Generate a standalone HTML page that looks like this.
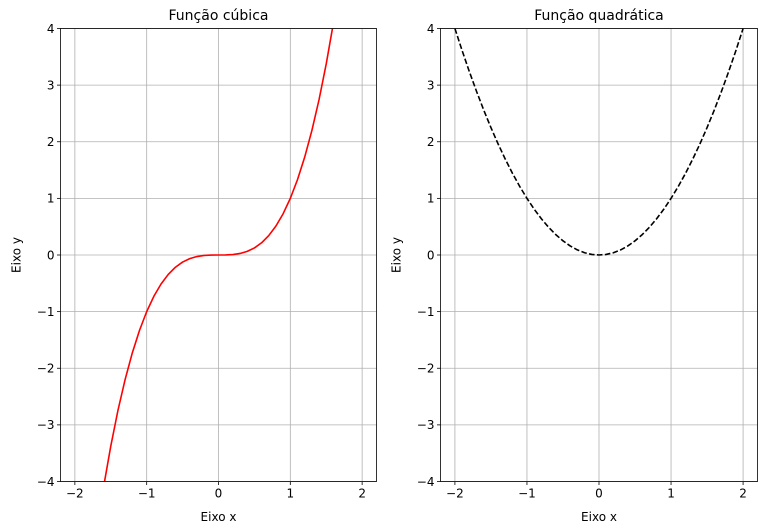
<!DOCTYPE html>
<html><head><meta charset="utf-8"><style>
html,body{margin:0;background:#fff;overflow:hidden;width:774px;height:530px;}
svg{display:block;font-family:"DejaVu Sans","Liberation Sans",sans-serif;}
</style></head><body>
<svg id="chart" width="774" height="530" viewBox="0 0 774 530"></svg>
<script>
const xValues=[-2,-1.9,-1.8,-1.7,-1.6,-1.5,-1.4,-1.3,-1.2,-1.1,-1,-0.9,-0.8,-0.7,-0.6,-0.5,-0.4,-0.3,-0.2,-0.1,0,0.1,0.2,0.3,0.4,0.5,0.6,0.7,0.8,0.9,1,1.1,1.2,1.3,1.4,1.5,1.6,1.7,1.8,1.9,2];
const cubicValues=[-8,-6.859,-5.832,-4.913,-4.096,-3.375,-2.744,-2.197,-1.728,-1.331,-1,-0.729,-0.512,-0.343,-0.216,-0.125,-0.064,-0.027,-0.008,-0.001,0,0.001,0.008,0.027,0.064,0.125,0.216,0.343,0.512,0.729,1,1.331,1.728,2.197,2.744,3.375,4.096,4.913,5.832,6.859,8];
const quadValues=[4,3.61,3.24,2.89,2.56,2.25,1.96,1.69,1.44,1.21,1,0.81,0.64,0.49,0.36,0.25,0.16,0.09,0.04,0.01,0,0.01,0.04,0.09,0.16,0.25,0.36,0.49,0.64,0.81,1,1.21,1.44,1.69,1.96,2.25,2.56,2.89,3.24,3.61,4];
const xTicks=[-2,-1,0,1,2];
const yTicks=[-4,-3,-2,-1,0,1,2,3,4];
const xTickLabels=["\u22122","\u22121","0","1","2"];
const yTickLabels=["\u22124","\u22123","\u22122","\u22121","0","1","2","3","4"];

const svg=document.getElementById('chart');
const NS='http://www.w3.org/2000/svg';
function mk(tag,attrs,parent){const e=document.createElementNS(NS,tag);for(const k in attrs)e.setAttribute(k,attrs[k]);(parent||svg).appendChild(e);return e;}

const panels=[
 {left:60.5,right:376.5,title:"Função cúbica",vals:cubicValues,color:"#ff0000",dash:null,name:"cubic"},
 {left:440.5,right:757.5,title:"Função quadrática",vals:quadValues,color:"#000000",dash:"5.55,2.4",name:"quadratic"}
];
const axTop=28.5,axBottom=481.5,xmin=-2.2,xmax=2.2,ymin=-4,ymax=4;

panels.forEach((p,i)=>{
 const g=mk('g',{});
 
 
 const sx=v=>p.left+(v-xmin)/(xmax-xmin)*(p.right-p.left);
 const sy=v=>axBottom-(v-ymin)/(ymax-ymin)*(axBottom-axTop);
 const clipId='clip'+i;
 const cp=mk('clipPath',{id:clipId},g);
 mk('rect',{x:p.left,y:axTop,width:p.right-p.left,height:axBottom-axTop},cp);
 xTicks.forEach((t,j)=>{
  const gl=mk('line',{x1:sx(t),x2:sx(t),y1:axTop,y2:axBottom,stroke:'#b0b0b0','stroke-width':0.8},g);
  
  
  mk('line',{x1:sx(t),x2:sx(t),y1:axBottom,y2:axBottom+3.5,stroke:'#000','stroke-width':0.8},g);
  const tx=mk('text',{x:sx(t),y:axBottom+16,'text-anchor':'middle','font-size':12},g);
  tx.textContent=xTickLabels[j];
  
  
 });
 yTicks.forEach((t,j)=>{
  const gl=mk('line',{x1:p.left,x2:p.right,y1:sy(t),y2:sy(t),stroke:'#b0b0b0','stroke-width':0.8},g);
  
  
  mk('line',{x1:p.left-3.5,x2:p.left,y1:sy(t),y2:sy(t),stroke:'#000','stroke-width':0.8},g);
  const tx=mk('text',{x:p.left-6,y:sy(t)+4.3,'text-anchor':'end','font-size':12},g);
  tx.textContent=yTickLabels[j];
  
  
 });
 const pts=xValues.map((x,k)=>sx(x).toFixed(2)+','+sy(p.vals[k]).toFixed(2)).join(' ');
 const line=mk('polyline',{points:pts,fill:'none',stroke:p.color,'stroke-width':1.6,'clip-path':'url(#'+clipId+')','stroke-linejoin':'round'},g);
 if(p.dash)line.setAttribute('stroke-dasharray',p.dash);
 
 
 const fr=mk('rect',{x:p.left,y:axTop,width:p.right-p.left,height:axBottom-axTop,fill:'none',stroke:'#000','stroke-width':0.8},g);
 
 
 const ti=mk('text',{x:(p.left+p.right)/2,y:20,'text-anchor':'middle','font-size':14},g);
 ti.textContent=p.title;
 
 
 const xl=mk('text',{x:(p.left+p.right)/2,y:521,'text-anchor':'middle','font-size':12},g);
 xl.textContent='Eixo x';
 
 
 const yx=p.left-40,yy=(axTop+axBottom)/2;
 const yl=mk('text',{x:yx,y:yy,'text-anchor':'middle','font-size':12,transform:'rotate(-90 '+yx+' '+yy+')'},g);
 yl.textContent='Eixo y';
 
 
});
</script>
</body></html>
